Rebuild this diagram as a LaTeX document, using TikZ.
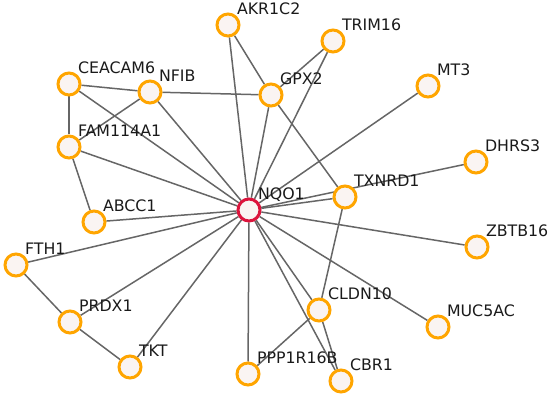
\documentclass[tikz,border=0pt]{standalone}
\usepackage{fontspec}
\setmainfont{DejaVu Sans}
\usepackage{xcolor}
\usetikzlibrary{positioning,backgrounds}
\definecolor{cgene}{HTML}{FAF4F2}
\definecolor{cgeneborder}{HTML}{FFA500}
\definecolor{chubborder}{HTML}{DC143C}
\definecolor{cedge}{HTML}{666666}
\definecolor{ctext}{HTML}{1A1A1A}

\begin{document}
\begin{tikzpicture}[
    x=1pt, y=-1pt,
    gene/.style={circle, draw=cgeneborder, fill=cgene, line width=3pt,
                 minimum size=22pt, inner sep=0pt},
    hub/.style={gene, draw=chubborder},
    glabel/.style={anchor=base west, inner sep=0pt, yshift=2pt, text=ctext,
                   font=\fontsize{15.8}{18}\selectfont},
    edge/.style={draw=cedge, line width=1.5pt}
]
\useasboundingbox (0,0) rectangle (550,398);
\node[hub,  label={[glabel]45:NQO1}]     (nqo1)     at (249,210) {};
\node[gene, label={[glabel]45:AKR1C2}]   (akr1c2)   at (228,25)  {};
\node[gene, label={[glabel]45:TRIM16}]   (trim16)   at (333,41)  {};
\node[gene, label={[glabel]45:CEACAM6}]  (ceacam6)  at (69,84)   {};
\node[gene, label={[glabel]45:NFIB}]     (nfib)     at (150,92)  {};
\node[gene, label={[glabel]45:GPX2}]     (gpx2)     at (271,95)  {};
\node[gene, label={[glabel]45:MT3}]      (mt3)      at (428,86)  {};
\node[gene, label={[glabel]45:FAM114A1}] (fam114a1) at (69,147)  {};
\node[gene, label={[glabel]45:DHRS3}]    (dhrs3)    at (476,162) {};
\node[gene, label={[glabel]45:TXNRD1}]   (txnrd1)   at (345,197) {};
\node[gene, label={[glabel]45:ABCC1}]    (abcc1)    at (94,222)  {};
\node[gene, label={[glabel]45:FTH1}]     (fth1)     at (16,265)  {};
\node[gene, label={[glabel]45:ZBTB16}]   (zbtb16)   at (477,247) {};
\node[gene, label={[glabel]45:CLDN10}]   (cldn10)   at (319,310) {};
\node[gene, label={[glabel]45:PRDX1}]    (prdx1)    at (70,322)  {};
\node[gene, label={[glabel]45:MUC5AC}]   (muc5ac)   at (438,327) {};
\node[gene, label={[glabel]45:TKT}]      (tkt)      at (130,367) {};
\node[gene, label={[glabel]45:PPP1R16B}] (ppp1r16b) at (248,374) {};
\node[gene, label={[glabel]45:CBR1}]     (cbr1)     at (341,381) {};
\begin{scope}[on background layer]
% hub edges
\draw[edge] (nqo1) -- (akr1c2);
\draw[edge] (nqo1) -- (trim16);
\draw[edge] (nqo1) -- (gpx2);
\draw[edge] (nqo1) -- (mt3);
\draw[edge] (nqo1) -- (ceacam6);
\draw[edge] (nqo1) -- (nfib);
\draw[edge] (nqo1) -- (fam114a1);
\draw[edge] (nqo1) -- (abcc1);
\draw[edge] (nqo1) -- (fth1);
\draw[edge] (nqo1) -- (prdx1);
\draw[edge] (nqo1) -- (tkt);
\draw[edge] (nqo1) -- (ppp1r16b);
\draw[edge] (nqo1) -- (cldn10);
\draw[edge] (nqo1) -- (cbr1);
\draw[edge] (nqo1) -- (muc5ac);
\draw[edge] (nqo1) -- (zbtb16);
\draw[edge] (nqo1) -- (txnrd1);
\draw[edge] (nqo1.center) -- (dhrs3);
% other edges
\draw[edge] (akr1c2) -- (gpx2);
\draw[edge] (trim16) -- (gpx2);
\draw[edge] (ceacam6) -- (nfib);
\draw[edge] (ceacam6) -- (fam114a1);
\draw[edge] (nfib) -- (fam114a1);
\draw[edge] (nfib) -- (gpx2);
\draw[edge] (gpx2) -- (txnrd1);
\draw[edge] (fam114a1) -- (abcc1);
\draw[edge] (fth1) -- (prdx1);
\draw[edge] (prdx1) -- (tkt);
\draw[edge] (ppp1r16b) -- (cldn10);
\draw[edge] (cldn10) -- (txnrd1);
\draw[edge] (cldn10) -- (cbr1);
\end{scope}
\end{tikzpicture}
\end{document}
